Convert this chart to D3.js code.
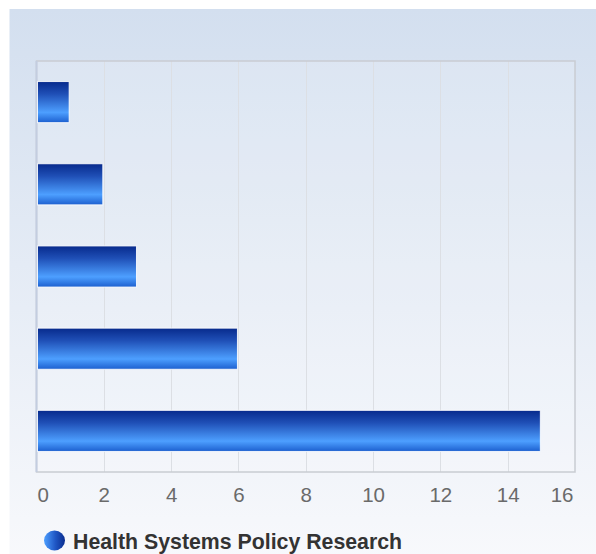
<!DOCTYPE html>
<html>
<head>
<meta charset="utf-8">
<script src="https://cdn.jsdelivr.net/npm/d3@7"></script>
<style>
html,body{margin:0;padding:0;background:#fff;}
svg{display:block;}
</style>
</head>
<body>
<svg id="chart" width="596" height="554"></svg>
<script>
const categories = ["A", "B", "C", "D", "E"];
const values = [1, 2, 3, 6, 15];
const tickValues = [0, 2, 4, 6, 8, 10, 12, 14, 16];
const seriesName = "Health Systems Policy Research";

(function(){
const svg = d3.select("#chart");
const W = 596, H = 554;
const defs = svg.append("defs");

const bg = defs.append("linearGradient").attr("id","bg").attr("x1",0).attr("y1",0).attr("x2",0).attr("y2",1);
bg.append("stop").attr("offset","0%").attr("stop-color","#d3dfef");
bg.append("stop").attr("offset","100%").attr("stop-color","#f8f9fc");

const bar = defs.append("linearGradient").attr("id","bar").attr("x1",0).attr("y1",0).attr("x2",0).attr("y2",1);
bar.append("stop").attr("offset","0%").attr("stop-color","#072a8c");
bar.append("stop").attr("offset","30%").attr("stop-color","#1f4fb6");
bar.append("stop").attr("offset","75%").attr("stop-color","#4d9fff");
bar.append("stop").attr("offset","100%").attr("stop-color","#1c5fcf");

const leg = defs.append("linearGradient").attr("id","leg").attr("x1",0).attr("y1",0).attr("x2",1).attr("y2",0);
leg.append("stop").attr("offset","0%").attr("stop-color","#4d9fff");
leg.append("stop").attr("offset","55%").attr("stop-color","#1f56c4");
leg.append("stop").attr("offset","100%").attr("stop-color","#0a2d8f");

svg.append("rect").attr("x",9.5).attr("y",9).attr("width",W).attr("height",H).attr("fill","url(#bg)");

const pL = 36.5, pR = 575, pT = 61, pB = 472;
const x = d3.scaleLinear().domain([0,16]).range([pL,pR]);
const y = d3.scaleBand().domain(categories).range([pT,pB]).paddingInner(0.5).paddingOuter(0.25);

svg.append("rect").attr("x",pL).attr("y",pT).attr("width",pR-pL).attr("height",pB-pT)
  .attr("fill","#ffffff").attr("fill-opacity",0.15);

svg.append("g").selectAll("line").data(tickValues.slice(1,-1)).join("line")
  .attr("x1",d=>Math.round(x(d))+0.5).attr("x2",d=>Math.round(x(d))+0.5)
  .attr("y1",pT).attr("y2",pB)
  .attr("stroke","#dcdfe4").attr("stroke-width",1);

svg.append("rect").attr("x",pL).attr("y",pT).attr("width",pR-pL).attr("height",pB-pT)
  .attr("fill","none").attr("stroke","#c9ccd2").attr("stroke-width",1.5);
svg.append("line").attr("x1",pL).attr("x2",pL).attr("y1",pT).attr("y2",pB)
  .attr("stroke","#c3cde0").attr("stroke-width",2);

svg.append("g").selectAll("rect").data(values).join("rect")
  .attr("x",x(0)+1)
  .attr("y",(d,i)=>y(categories[i]))
  .attr("width",d=>x(d)-x(0)-2)
  .attr("height",y.bandwidth())
  .attr("fill","url(#bar)")
  .attr("stroke","#ffffff").attr("stroke-opacity",0.85).attr("stroke-width",1);

const axis = d3.axisBottom(x).tickValues(tickValues).tickSize(0).tickPadding(0);
const ag = svg.append("g").attr("transform",`translate(0,${pB})`).call(axis);
ag.select(".domain").remove();
ag.selectAll("text")
  .attr("y",30).attr("dy",0)
  .attr("fill","#6a6a6a")
  .style("font-family","'Liberation Sans', Arial, sans-serif")
  .style("font-size","20.5px")
  .attr("text-anchor",(d,i)=> i===0 ? "start" : (i===tickValues.length-1 ? "end" : "middle"))
  .attr("dx",(d,i)=> i===0 ? 0.5 : (i===tickValues.length-1 ? -2 : 0));

svg.append("ellipse").attr("cx",54.5).attr("cy",540.5).attr("rx",10.5).attr("ry",10)
  .attr("fill","url(#leg)");
svg.append("text").attr("x",73).attr("y",549)
  .attr("fill","#333333")
  .style("font-family","'Liberation Sans', Arial, sans-serif")
  .style("font-size","21.3px").style("font-weight","bold")
  .text(seriesName);
})();
</script>
</body>
</html>
